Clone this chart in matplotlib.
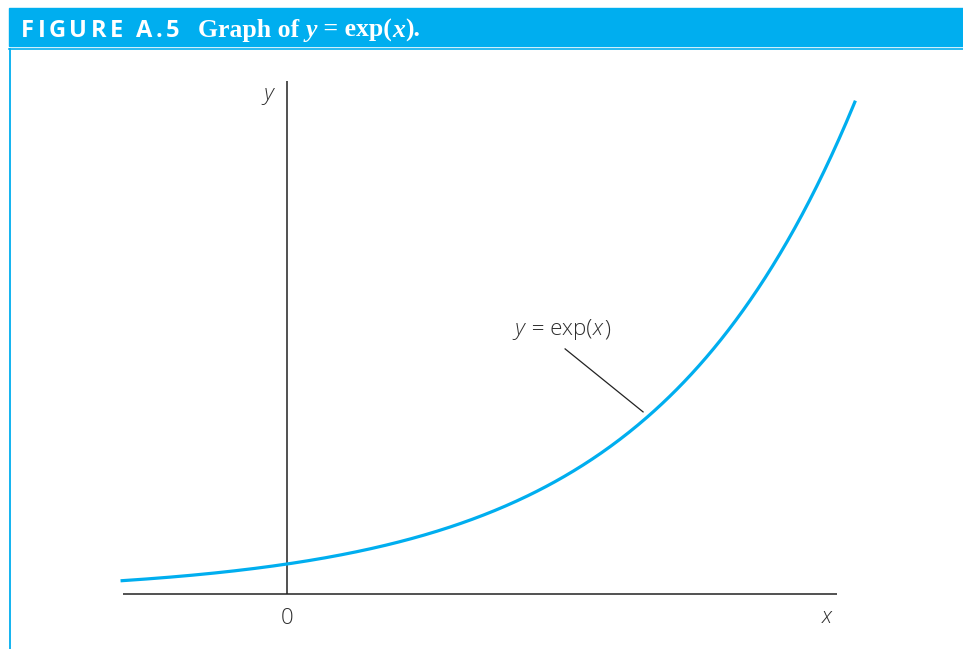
import numpy as np
import matplotlib.pyplot as plt
from matplotlib.patches import Rectangle
from matplotlib.lines import Line2D

BLUE = "#00AEEF"
INK = "#222222"
TEXT = "#2e2e2e"

# domain of the plotted curve and of the drawn axes
curve_range = [-0.82, 2.80]
x_axis_range = [-0.81, 2.71]
y_axis_range = [0.0, 17.1]

# curve label (pieces, italic flags) and its leader line
label_pieces = ["y", " = exp(", "x", ")"]
label_italic = [True, False, True, False]
label_pos = (1.122, 8.62)
leader_x = [1.37, 1.754]
leader_y = [8.17, 6.07]

header_tag = "FIGURE A.5"
header_title = ["Graph of ", "y", " = exp(", "x", ")."]
header_italic = [False, True, False, True, False]

W, H = 963, 649
fig = plt.figure(figsize=(W / 100, H / 100), dpi=100)

# axes cover the whole figure; 1 x-unit = 203 px, 1 y-unit = 30 px
ax = fig.add_axes([0, 0, 1, 1])
x0_px, y0_px, sx, sy = 287, 594, 203.0, 30.0
ax.set_xlim(-x0_px / sx, (W - x0_px) / sx)
ax.set_ylim(-(H - y0_px) / sy, y0_px / sy)
ax.axis("off")

# frame: header bar, rule under it, left border
fig.patches.append(Rectangle((9 / W, 1 - 46 / H), 1 - 9 / W, 38 / H,
                             transform=fig.transFigure, color=BLUE, zorder=0))
fig.lines.append(Line2D([9 / W, 1], [1 - 48.5 / H, 1 - 48.5 / H],
                        transform=fig.transFigure, color=BLUE, lw=1.2))
fig.lines.append(Line2D([10 / W, 10 / W], [0, 1 - 48.5 / H],
                        transform=fig.transFigure, color=BLUE, lw=1.3))

# coordinate axes
ax.plot(x_axis_range, [0, 0], color=INK, lw=1.1, solid_capstyle="butt")
ax.plot([0, 0], y_axis_range, color=INK, lw=1.1, solid_capstyle="butt")

# the curve
x = np.linspace(curve_range[0], curve_range[1], 400)
ax.plot(x, np.exp(x), color=BLUE, lw=2.3, solid_capstyle="butt")

ax.plot(leader_x, leader_y, color=INK, lw=0.9)

fig.canvas.draw()
r = fig.canvas.get_renderer()
lab_font = dict(family="Open Sans", fontweight="light", color=TEXT, fontsize=16)

# curve label, one piece after another
xp = ax.transData.transform(label_pos)[0]
for piece, it in zip(label_pieces, label_italic):
    t = ax.text(ax.transData.inverted().transform((xp, 0))[0], label_pos[1], piece,
                style="italic" if it else "normal", ha="left", va="baseline", **lab_font)
    xp = t.get_window_extent(r).x1 + 1

ax.text(0, -0.45, "0", ha="center", va="top", **lab_font)
ax.text(2.66, -0.4, "x", style="italic", ha="center", va="top", **lab_font)
ax.text(-0.09, 16.3, "y", style="italic", ha="center", va="bottom", **lab_font)


# header text, drawn piece by piece in pixel coordinates
def put(xpx, s, **kw):
    t = fig.text(xpx / W, 1 - 37 / H, s, ha="left", va="baseline",
                 color="white", **kw)
    return t.get_window_extent(r).x1


xp = 21
for ch in header_tag:
    xp = put(xp, ch, family="Open Sans", fontweight="bold", fontsize=17) + 3.4
xp += 16
for piece, it in zip(header_title, header_italic):
    xp = put(xp, piece, family="Liberation Serif", fontweight="bold",
             fontsize=18.5, style="italic" if it else "normal")

fig.savefig("out.png", dpi=100)
